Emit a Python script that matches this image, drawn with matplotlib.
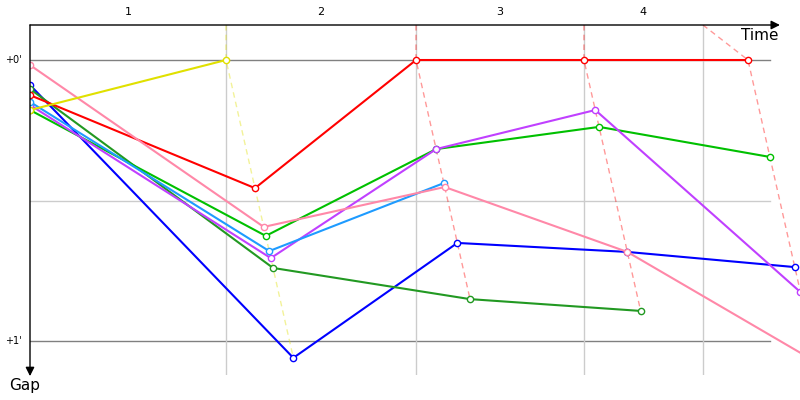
import numpy as np
import matplotlib.pyplot as plt

# gap to the leader (in minutes) at the start and at the end of each lap
gap_yellow = [0.178, 0.0]
gap_red = [0.125, 0.456, 0.0, 0.0, 0.0]
gap_pink = [0.018, 0.594, 0.452, 0.683, 1.075]
gap_blue = [0.089, 1.060, 0.651, 0.683, 0.737]
gap_dkgreen = [0.103, 0.740, 0.851, 0.893]
gap_green = [0.178, 0.626, 0.317, 0.238, 0.345]
gap_purple = [0.160, 0.705, 0.317, 0.178, 0.826]
gap_ltblue = [0.149, 0.680, 0.438]

# race time of the leader at each lap end, and the lap grid lines
leader_t = [3.087, 6.079, 8.724, 11.307]
grid_t = [3.087, 6.079, 8.724, 10.598]
lap_labels = ['1', '2', '3', '4']
gap_ticks = [0, 1]
gap_tick_labels = ["+0'", "+1'"]

series = [
    (gap_blue, '#0000ff'),
    (gap_dkgreen, '#229922'),
    (gap_green, '#00c000'),
    (gap_purple, '#c040ff'),
    (gap_ltblue, '#1e9bff'),
    (gap_red, '#ff0000'),
    (gap_pink, '#ff88a8'),
    (gap_yellow, '#e0e000'),
]

y_top, y_bot = -0.1246, 1.121
x_max = 12.126
x_grid_end = 11.654

fig = plt.figure(figsize=(8, 4), dpi=100)
ax = fig.add_axes([30 / 800, 25 / 400, 770 / 800, 350 / 400])
ax.set_xlim(0, x_max)
ax.set_ylim(y_bot, y_top)
ax.axis('off')

# grid
ax.plot([0, x_grid_end], [0, 0], color='#808080', lw=1, zorder=1)
ax.plot([0, x_grid_end], [1, 1], color='#808080', lw=1, zorder=1)
ax.plot([0, x_grid_end], [0.5, 0.5], color='#cccccc', lw=1, zorder=1)
for t in grid_t:
    ax.plot([t, t], [y_top, y_bot], color='#cccccc', lw=1, zorder=1)

# lap lines: from the grid line to the leader, then through every car
for i in range(len(leader_t)):
    gaps = [s[0][i + 1] for s in series if len(s[0]) > i + 1]
    leader_col = [s[1] for s in series if len(s[0]) > i + 1 and s[0][i + 1] == 0][0]
    g = max(gaps)
    ax.plot([grid_t[i], leader_t[i], leader_t[i] + g], [y_top, 0, g],
            color=leader_col, alpha=0.4, lw=1, ls=(0, (4, 3)), zorder=2)

# cars
for gaps, col in series:
    xs = [0] + [leader_t[i] + gaps[i + 1] for i in range(len(gaps) - 1)]
    ax.plot(xs, gaps, color=col, lw=1.5, marker='o', ms=4.5, mfc='white',
            mec=col, mew=1, zorder=3)

# axes arrows
ax.annotate('', xy=(11.81, y_top), xytext=(0, y_top), annotation_clip=False,
            arrowprops=dict(arrowstyle='-|>', color='black', lw=1, mutation_scale=13,
                            shrinkA=0, shrinkB=0), zorder=5)
ax.annotate('', xy=(0, 1.125), xytext=(0, y_top), annotation_clip=False,
            arrowprops=dict(arrowstyle='-|>', color='black', lw=1, mutation_scale=13,
                            shrinkA=0, shrinkB=0), zorder=5)

edges = [0] + grid_t
for i, lab in enumerate(lap_labels):
    ax.text((edges[i] + edges[i + 1]) / 2, y_top - 0.03, lab, ha='center', va='bottom',
            fontsize=8, clip_on=False)
for v, lab in zip(gap_ticks, gap_tick_labels):
    ax.text(-0.13, v, lab, ha='right', va='center', fontsize=7, clip_on=False)
ax.text(11.5, -0.087, 'Time', ha='center', va='center', fontsize=11, clip_on=False)
ax.text(-0.08, 1.16, 'Gap', ha='center', va='center', fontsize=11, clip_on=False)

fig.savefig('out.png', dpi=100)
